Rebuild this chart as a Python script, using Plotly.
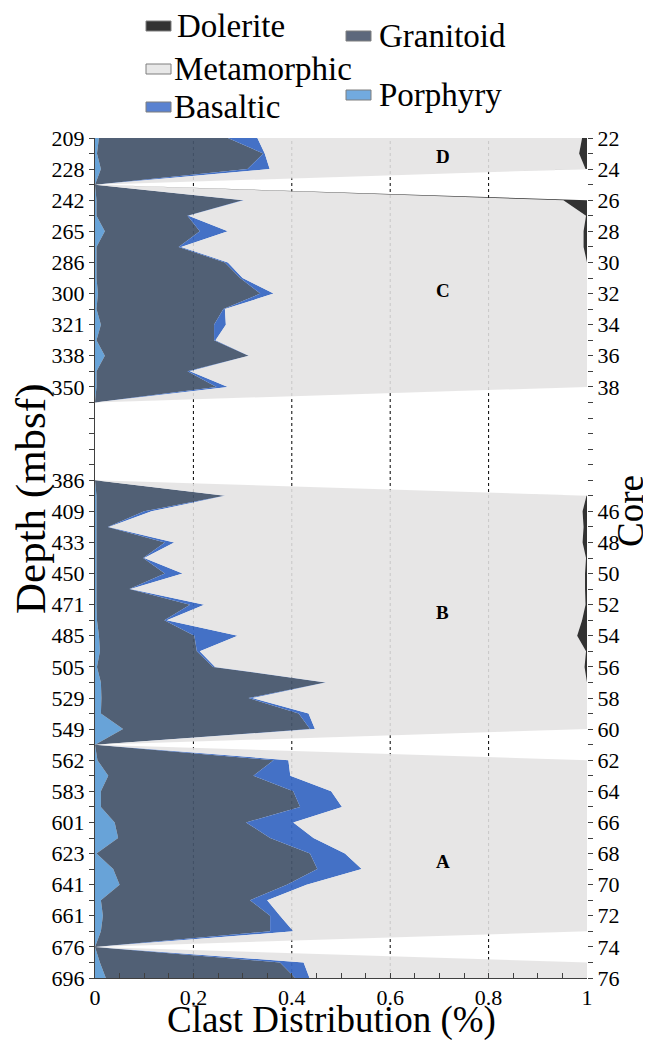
import plotly.graph_objects as go

cores = list(range(22, 77))

porphyry = [0.008, 0.004, 0.012, 0,
            0.003, 0.003, 0.02, 0.003, 0.003, 0.003, 0.006, 0.003, 0.012, 0.003, 0.02, 0.003, 0.003,
            0, 0, 0, 0, 0, 0,
            0.003, 0.003, 0.003, 0.003, 0.003, 0.003, 0.003, 0.003, 0.004, 0.008, 0.01, 0.004, 0.012, 0.013, 0.012, 0.057,
            0,
            0.005, 0.027, 0.012, 0.012, 0.04, 0.047, 0.003, 0.037, 0.05, 0.012, 0.016, 0.012,
            0,
            0.01, 0.022]
granitoid = [0.262, 0.338, 0.298, 0,
             0.297, 0.185, 0.193, 0.167, 0.261, 0.292, 0.33, 0.258, 0.23, 0.239, 0.292, 0.185, 0.244,
             0, 0, 0, 0, 0, 0,
             0.26, 0.097, 0.023, 0.139, 0.095, 0.139, 0.067, 0.19, 0.137, 0.194, 0.197, 0.236, 0.456, 0.299, 0.402, 0.38,
             0,
             0.358, 0.295, 0.391, 0.405, 0.267, 0.309, 0.434, 0.415, 0.34, 0.303, 0.34, 0.344,
             0,
             0.366, 0.385]
basaltic = [0.06, 0.003, 0.045, 0,
            0.003, 0.002, 0.057, 0.005, 0.006, 0.005, 0.027, 0.003, 0.024, 0.003, 0.001, 0.005, 0.023,
            0, 0, 0, 0, 0, 0,
            0.002, 0.015, 0.002, 0.019, 0.002, 0.036, 0.002, 0.029, 0.005, 0.088, 0.006, 0.004, 0.002, 0.008, 0.02, 0.01,
            0,
            0.03, 0.075, 0.077, 0.085, 0.096, 0.088, 0.071, 0.09, 0.04, 0.035, 0.02, 0.047,
            0,
            0.048, 0.029]
metamorphic = [0.66, 0.639, 0.642, 0,
               0.649, 0.808, 0.723, 0.818, 0.73, 0.7, 0.637, 0.736, 0.734, 0.755, 0.687, 0.807, 0.73,
               0, 0, 0, 0, 0, 0,
               0.734, 0.876, 0.965, 0.83, 0.898, 0.818, 0.924, 0.775, 0.844, 0.69, 0.785, 0.751, 0.53, 0.68, 0.566, 0.553,
               0,
               0.607, 0.603, 0.52, 0.498, 0.597, 0.556, 0.492, 0.458, 0.57, 0.65, 0.624, 0.597,
               0,
               0.576, 0.564]
dolerite = [0.01, 0.016, 0.003, 0,
            0.048, 0.002, 0.007, 0.007, 0, 0, 0, 0, 0, 0, 0, 0, 0,
            0, 0, 0, 0, 0, 0,
            0.001, 0.009, 0.007, 0.009, 0.002, 0.004, 0.004, 0.003, 0.01, 0.02, 0.002, 0.005, 0, 0, 0, 0,
            0,
            0, 0, 0, 0, 0, 0, 0, 0, 0, 0, 0, 0,
            0,
            0, 0]

depth_cores = [22, 24, 26, 28, 30, 32, 34, 36, 38, 44, 46, 48, 50, 52, 54, 56, 58, 60, 62, 64, 66, 68, 70, 72, 74, 76]
depth_labels = ["209", "228", "242", "265", "286", "300", "321", "338", "350", "386", "409", "433", "450",
                "471", "485", "505", "529", "549", "562", "583", "601", "623", "641", "661", "676", "696"]
core_label_vals = [c for c in range(22, 77, 2) if c not in (40, 42, 44)]

sections = ["D", "C", "B", "A"]
section_cores = [23.2, 31.8, 52.5, 68.5]

series = [
    ("Porphyry", porphyry, "rgba(91,155,213,0.92)"),
    ("Granitoid", granitoid, "rgba(68,84,106,0.93)"),
    ("Basaltic", basaltic, "rgba(56,104,194,0.94)"),
    ("Metamorphic", metamorphic, "rgba(228,227,227,0.88)"),
    ("Dolerite", dolerite, "rgba(28,28,28,0.9)"),
]

FONT = "Liberation Serif, Times New Roman, serif"
OFF = 8  # page body margin
W, H = 643, 1032
L, R, T, B = 87, 64, 130, 62
PW, PH = W - L - R, H - T - B


def px(x):
    return (x - OFF - L) / PW


def py(y):
    return (H + OFF - B - y) / PH


fig = go.Figure()
for name, vals, col in series:
    fig.add_trace(go.Scatter(x=vals, y=cores, name=name, stackgroup="one", orientation="h",
                             mode="none", fillcolor=col, showlegend=False, hoverinfo="skip"))
fig.add_trace(go.Scatter(x=[0.5], y=[50], yaxis="y2", mode="none", showlegend=False, hoverinfo="skip"))

shapes = []
for gx in [0.2, 0.4, 0.6, 0.8]:
    shapes.append(dict(type="line", xref="x", yref="paper", x0=gx, x1=gx, y0=0, y1=1,
                       line=dict(color="black", width=1, dash="3px,3px"), layer="below"))

annotations = []
for s, c in zip(sections, section_cores):
    annotations.append(dict(x=0.707, y=c, xref="x", yref="y", text="<b>%s</b>" % s, showarrow=False,
                            xanchor="center", yanchor="middle",
                            font=dict(family=FONT, size=19, color="black")))

# legend (manual, to follow the staggered layout)
legend_items = [
    ("Dolerite", "#333333", 146, 26, 175),
    ("Granitoid", "#5d687c", 346, 36, 377),
    ("Metamorphic", "#e8e8e8", 146, 69, 172),
    ("Basaltic", "#5a82d0", 146, 107, 172),
    ("Porphyry", "#72aadf", 346, 95, 377),
]
for name, col, sx, cy, tx in legend_items:
    shapes.append(dict(type="rect", xref="paper", yref="paper", x0=px(sx), x1=px(sx + 25),
                       y0=py(cy + 5), y1=py(cy - 5), fillcolor=col, line=dict(color="#7f7f7f", width=1)))
    annotations.append(dict(x=px(tx), y=py(cy), xref="paper", yref="paper", text=name, showarrow=False,
                            xanchor="left", yanchor="middle",
                            font=dict(family=FONT, size=33, color="black")))

annotations.append(dict(x=px(331), y=py(1043), xref="paper", yref="paper", text="Clast Distribution (%)",
                        showarrow=False, xanchor="center", yanchor="bottom",
                        font=dict(family=FONT, size=37, color="black")))
annotations.append(dict(x=px(31), y=py(499), xref="paper", yref="paper", text="Depth (mbsf)", textangle=-90,
                        showarrow=False, xanchor="center", yanchor="middle",
                        font=dict(family=FONT, size=43, color="black")))
annotations.append(dict(x=px(630), y=py(511), xref="paper", yref="paper", text="Core", textangle=-90,
                        showarrow=False, xanchor="center", yanchor="middle",
                        font=dict(family=FONT, size=37, color="black")))

tick_font = dict(family=FONT, size=22, color="black")
fig.update_layout(
    width=W, height=H, margin=dict(l=L, r=R, t=T, b=B, autoexpand=False),
    font=dict(family=FONT, color="black"),
    paper_bgcolor="white", plot_bgcolor="white",
    shapes=shapes, annotations=annotations,
    xaxis=dict(range=[0, 1], tickvals=[0, 0.2, 0.4, 0.6, 0.8, 1], ticktext=["0", "0.2", "0.4", "0.6", "0.8", "1"],
               ticks="inside", ticklen=5, tickcolor="#404040", showgrid=False, zeroline=False,
               showline=True, linecolor="#404040", linewidth=1,
               minor=dict(dtick=0.05, ticks="inside", ticklen=5, tickcolor="#404040", showgrid=False),
               tickfont=tick_font),
    yaxis=dict(range=[76, 22], tickvals=depth_cores, ticktext=depth_labels, ticks="outside", ticklen=5,
               tickcolor="#404040", showgrid=False, zeroline=False, showline=True, linecolor="#404040",
               minor=dict(tickvals=cores, ticks="outside", ticklen=5, tickcolor="#404040", showgrid=False),
               tickfont=tick_font),
    yaxis2=dict(range=[76, 22], overlaying="y", side="right", tickvals=core_label_vals,
                ticktext=[str(c) for c in core_label_vals], ticks="outside", ticklen=5, tickcolor="#404040",
                minor=dict(tickvals=cores, ticks="outside", ticklen=5, tickcolor="#404040", showgrid=False),
                showgrid=False, zeroline=False, showline=False,
                tickfont=tick_font),
)

fig.write_html("out.html")
